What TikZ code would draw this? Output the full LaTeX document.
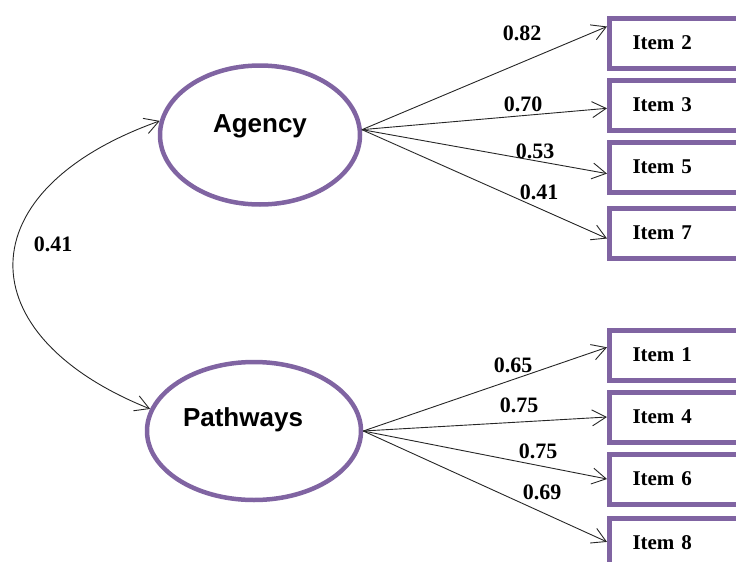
\documentclass[tikz,border=0pt]{standalone}
\usepackage{fontspec}
\setmainfont{Liberation Serif}
\setsansfont{Liberation Sans}
\usetikzlibrary{calc,shapes.geometric,arrows.meta}
\definecolor{lavender}{HTML}{8064A2}

\begin{document}
\begin{tikzpicture}[x=1pt,y=-1pt,
    latent/.style={draw=lavender,line width=4.5pt,ellipse,inner sep=0pt},
    item/.style={draw=lavender,line width=5pt,anchor=west,minimum height=50pt,
      text width=110pt,inner xsep=23pt,align=left,
      font=\fontsize{21}{24}\selectfont\bfseries},
    link/.style={draw=black!85,line width=0.9pt,-{Straight Barb[length=14pt,width=16pt]}},
    coef/.style={font=\fontsize{22}{24}\selectfont\bfseries,inner sep=0pt}]
    \useasboundingbox (0,0) rectangle (736,562);

    % factors
    \node[latent,minimum width=200pt,minimum height=139pt,
      label={[yshift=9pt,font=\sffamily\bfseries\fontsize{26}{30}\selectfont]center:Agency}] (agency) at (260,135) {};
    \node[latent,minimum width=214pt,minimum height=138pt,
      label={[xshift=-11pt,yshift=11pt,font=\sffamily\bfseries\fontsize{26}{30}\selectfont]center:Pathways}] (pathways) at (254,431) {};

    % items
    \foreach \n/\y in {2/43,3/105,5/167,7/233,1/355,4/417,6/479,8/543}{
      \node[item] (i\n) at (607,\y) {Item \n};
    }

    % loadings
    \foreach \n/\f in {2/0.2,3/0.56,5/0.62,7/0.6}{
      \draw[link] (agency.3) -- ($(i\n.north west)!\f!(i\n.south west)$);
    }
    \foreach \n/\f in {1/0.36,4/0.5,6/0.5,8/0.48}{
      \draw[link] (pathways.0) -- ($(i\n.north west)!\f!(i\n.south west)$);
    }

    \foreach \v/\x/\y [count=\k] in {0.82/522/33,0.70/523/104,0.53/535/151,0.41/539/192,
        0.65/513/365,0.75/519/405,0.75/538/451,0.69/542/492}{
      \node[coef] (c\k) at (\x,\y) {\v};
    }

    % correlation
    \draw[link,{Straight Barb[length=14pt,width=16pt]}-{Straight Barb[length=14pt,width=16pt]}]
      (agency.172) .. controls (-34,190) and (-34,335) .. (pathways.168);
    \node[coef] (r) at (53,244) {0.41};
\end{tikzpicture}
\end{document}
